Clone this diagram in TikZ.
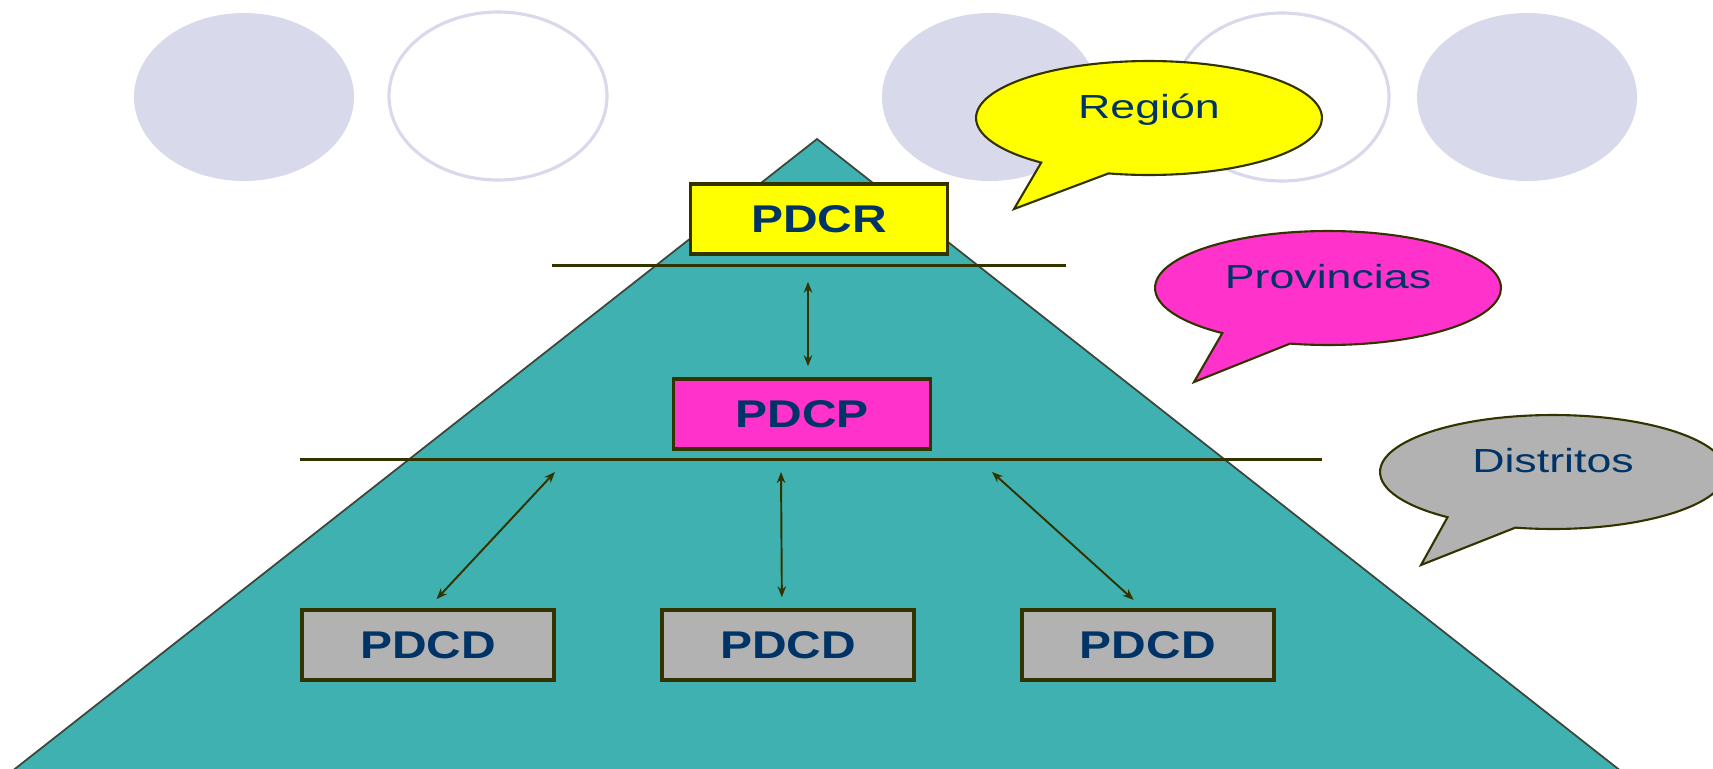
\documentclass[tikz,border=0pt]{standalone}
\usepackage{fontspec}
\setmainfont[FakeStretch=1.34]{Liberation Sans}
\newfontfamily\boxfont[FakeStretch=1.24]{Liberation Sans}
\usepackage{tikz}
\usetikzlibrary{positioning,shapes.callouts,arrows.meta}

\definecolor{lavender}{RGB}{217,217,236}
\definecolor{pyrteal}{RGB}{62,177,176}
\definecolor{pdyellow}{RGB}{255,255,0}
\definecolor{pdpink}{RGB}{255,51,204}
\definecolor{pdgray}{RGB}{178,178,178}
\definecolor{edgeolive}{RGB}{51,51,0}
\definecolor{pyredge}{RGB}{60,70,60}
\definecolor{textnavy}{RGB}{0,51,102}

\begin{document}
\begin{tikzpicture}[x=0.02cm, y=-0.02cm, node distance=7.2cm,
	box node/.style={rectangle,draw=edgeolive,line width=2pt,minimum width=5.04cm,
		minimum height=1.4cm,text=textnavy,font=\boxfont\bfseries\fontsize{22}{24}\selectfont},
	bubble/.style={ellipse callout,draw=edgeolive,line width=1.2pt,minimum width=6.92cm,
		minimum height=2.28cm,callout pointer arc=25,text=textnavy,
		text height=0.45cm,text depth=0.45cm,font=\fontsize{19}{21}\selectfont},
	sep line/.style={draw=edgeolive,line width=1.7pt},
	arr/.style={{Stealth[length=0.22cm,width=0.17cm]}-{Stealth[length=0.22cm,width=0.17cm]},
		draw=edgeolive,line width=1.1pt}]

	\useasboundingbox (0,0) rectangle (1713,768);
	\clip (0,0) rectangle (1713,768);

	\fill[lavender] (244,97) ellipse [x radius=110, y radius=84];
	\draw[lavender, line width=1.8pt] (498,96) ellipse [x radius=109, y radius=84];
	\fill[lavender] (990,97) ellipse [x radius=108, y radius=84];
	\draw[lavender, line width=1.8pt] (1282,97) ellipse [x radius=107, y radius=84];
	\fill[lavender] (1527,97) ellipse [x radius=110, y radius=84];

	\filldraw[fill=pyrteal, draw=pyredge, line width=1pt]
		(817,139) -- (1645,790) -- (-12,790) -- cycle;

	\draw[sep line] (552,265) -- (1066,265);
	\draw[sep line] (300,459) -- (1322,459);

	\node[box node, fill=pdyellow, minimum width=5.14cm] (pdcr) at (819,219) {PDCR};
	\node[box node, fill=pdpink, minimum width=5.14cm] (pdcp) at (802,414) {PDCP};
	\node[box node, fill=pdgray] (pdcd1) at (428,645) {PDCD};
	\node[box node, fill=pdgray] (pdcd2) [right of=pdcd1] {PDCD};
	\node[box node, fill=pdgray] (pdcd3) [right of=pdcd2] {PDCD};

	\coordinate (a1) at (555,472);
	\coordinate (a2) at (781,472);
	\coordinate (a3) at (992,472);

	\draw[arr, shorten <=0.52cm, shorten >=0.22cm] ([xshift=-0.22cm]pdcr.south) -- ([xshift=0.12cm]pdcp.north);
	\draw[arr, shorten >=0.25cm] (a1) -- (pdcd1.north);
	\draw[arr, shorten >=0.22cm] (a2) -- ([xshift=-0.12cm]pdcd2.north);
	\draw[arr, shorten >=0.25cm] (a3) -- ([xshift=-0.1cm]pdcd3.north);

	\node[bubble, fill=pdyellow, callout absolute pointer={(1014,209)}] (region) at (1149,118) {Región};
	\node[bubble, fill=pdpink, callout absolute pointer={(1194,382)}] (provincias) at (1328,288) {Provincias};
	\node[bubble, fill=pdgray, callout absolute pointer={(1421,565)}] (distritos) at (1553,472) {Distritos};
\end{tikzpicture}
\end{document}
